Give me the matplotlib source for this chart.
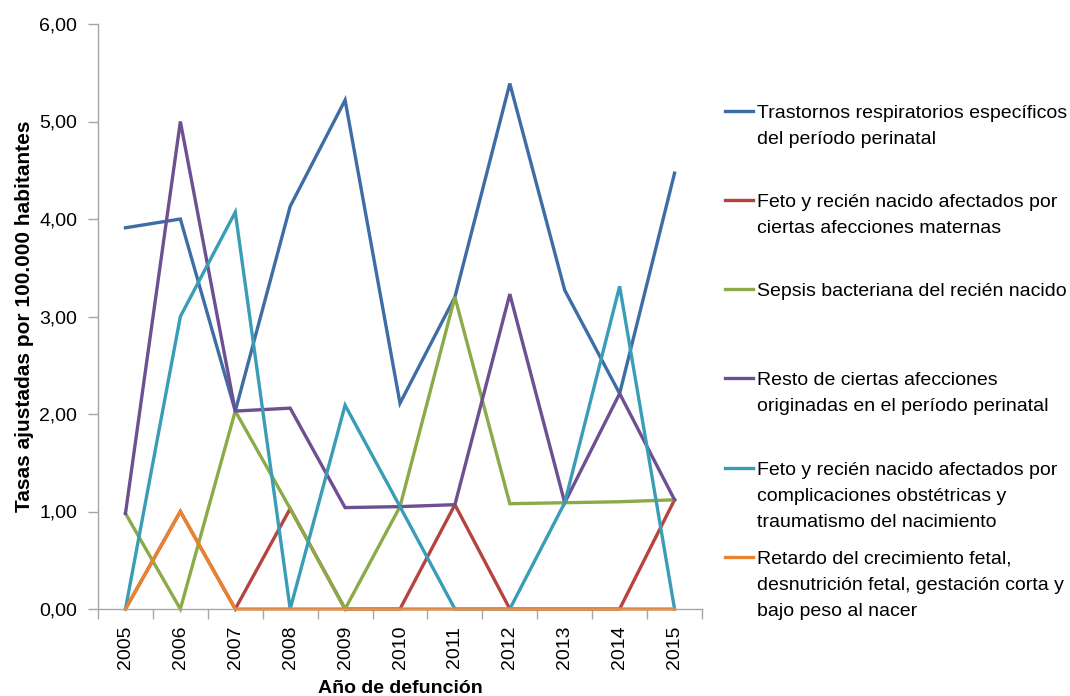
import numpy as np
import matplotlib
matplotlib.use('Agg')
from matplotlib import pyplot as plt
from matplotlib.lines import Line2D

plt.rcParams['font.family'] = ['Liberation Sans', 'DejaVu Sans']

# data
years = ['2005', '2006', '2007', '2008', '2009', '2010', '2011', '2012', '2013', '2014', '2015']

trastornos = [3.91, 4.00, 2.03, 4.13, 5.22, 2.11, 3.20, 5.39, 3.27, 2.21, 4.47]
feto_maternas = [0, 1.00, 0, 1.03, 0, 0, 1.07, 0, 0, 0, 1.12]
sepsis = [0.98, 0, 2.03, 1.03, 0, 1.05, 3.20, 1.08, 1.09, 1.10, 1.12]
resto = [0.98, 5.00, 2.03, 2.06, 1.04, 1.05, 1.07, 3.23, 1.09, 2.21, 1.12]
feto_complic = [0, 3.00, 4.07, 0, 2.09, 1.05, 0, 0, 1.09, 3.31, 0]
retardo = [0, 1.00, 0, 0, 0, 0, 0, 0, 0, 0, 0]

labels = ['Trastornos respiratorios específicos\ndel período perinatal',
          'Feto y recién nacido afectados por\nciertas afecciones maternas',
          'Sepsis bacteriana del recién nacido',
          'Resto de ciertas afecciones\noriginadas en el período perinatal',
          'Feto y recién nacido afectados por\ncomplicaciones obstétricas y\ntraumatismo del nacimiento',
          'Retardo del crecimiento fetal,\ndesnutrición fetal, gestación corta y\nbajo peso al nacer']
colors = ['#3E6DA6', '#B5443F', '#8AAB48', '#6E4F92', '#3A9DB8', '#E8832F']
series = [trastornos, feto_maternas, sepsis, resto, feto_complic, retardo]

fig = plt.figure(figsize=(10.70, 6.96), dpi=100)
ax = fig.add_axes([98/1070, 87/696, 604/1070, 585/696])

x = np.arange(len(years))
for s, c in zip(series, colors):
    ax.plot(x, s, color=c, lw=2.4, solid_joinstyle='miter', clip_on=False)

ax.set_xlim(-0.5, len(years) - 0.5)
ax.set_ylim(0, 6)
ax.set_yticks(np.arange(0, 7, 1))
ax.set_yticklabels(['%d,00' % v for v in range(7)], fontsize=14)
ax.set_xticks(x)
ax.set_xticklabels(years, rotation=90, fontsize=14)
ax.set_xticks(np.arange(-0.5, len(years), 1), minor=True)
ax.tick_params(axis='x', which='major', length=0, pad=12)
ax.tick_params(axis='x', which='minor', length=7, color='#A6A6A6', width=1)
ax.tick_params(axis='y', length=7, color='#A6A6A6', width=1, pad=8)

for side in ['top', 'right']:
    ax.spines[side].set_visible(False)
for side in ['left', 'bottom']:
    ax.spines[side].set_color('#A6A6A6')
    ax.spines[side].set_linewidth(1)

ax.set_ylabel('Tasas ajustadas por 100.000 habitantes', fontsize=15, fontweight='bold', labelpad=4)
ax.set_xlabel('Año de defunción', fontsize=14, fontweight='bold', labelpad=8)

# legend drawn by hand to keep Excel-like spacing
leg_y = [111, 200, 289, 378, 468, 557]
for lab, c, yy in zip(labels, colors, leg_y):
    yf = 1 - yy / 696
    fig.add_artist(Line2D([725/1070, 753/1070], [yf, yf], color=c, lw=2.4, transform=fig.transFigure))
    fig.text(757/1070, yf + 6/696, lab, fontsize=14, va='top', ha='left', linespacing=1.7)

plt.savefig('out.png', dpi=100)
